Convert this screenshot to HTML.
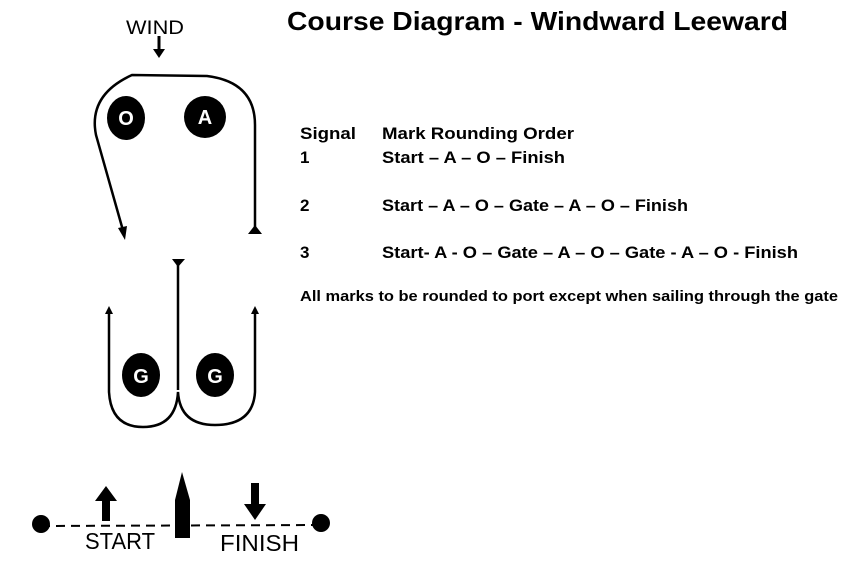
<!DOCTYPE html>
<html><head><style>body{margin:0;background:#fff}svg{display:block}</style></head><body>
<svg width="853" height="561" viewBox="0 0 853 561" xmlns="http://www.w3.org/2000/svg" font-family="Liberation Sans, sans-serif">
<rect width="853" height="561" fill="#fff"/>
<text x="126" y="34" font-size="19" textLength="58" lengthAdjust="spacingAndGlyphs">WIND</text>
<line x1="159" y1="36" x2="159" y2="50" stroke="#000" stroke-width="3"/>
<polygon points="153,49 165,49 159,58" fill="#000"/>
<path d="M124,234 L96,135 Q88,95 132,75 L207,76 Q255,82 255,125 L255,230" fill="none" stroke="#000" stroke-width="2.5"/>
<polygon points="118,228 127,226 125,240" fill="#000"/>
<polygon points="248,234 262,234 255,225" fill="#000"/>
<ellipse cx="126" cy="118" rx="19" ry="22" fill="#000"/>
<text x="126" y="125" font-size="20" font-weight="bold" fill="#fff" text-anchor="middle">O</text>
<ellipse cx="205" cy="117" rx="21" ry="21" fill="#000"/>
<text x="205" y="124" font-size="20" font-weight="bold" fill="#fff" text-anchor="middle">A</text>
<line x1="178" y1="262" x2="178" y2="390" stroke="#000" stroke-width="2.5"/>
<polygon points="172,259 185,259 178,267" fill="#000"/>
<path d="M109,310 L109,392 Q111,427 143,427 Q176,427 178,392 Q180,425 215,425 Q253,425 255,392 L255,310" fill="none" stroke="#000" stroke-width="2.5"/>
<polygon points="105,314 113,314 109,306" fill="#000"/>
<polygon points="251,314 259,314 255,306" fill="#000"/>
<ellipse cx="141" cy="375" rx="19" ry="22" fill="#000"/>
<text x="141" y="383" font-size="20" font-weight="bold" fill="#fff" text-anchor="middle">G</text>
<ellipse cx="215" cy="375" rx="19" ry="22" fill="#000"/>
<text x="215" y="383" font-size="20" font-weight="bold" fill="#fff" text-anchor="middle">G</text>
<line x1="41" y1="526" x2="321" y2="525" stroke="#000" stroke-width="2" stroke-dasharray="9,6"/>
<circle cx="41" cy="524" r="9" fill="#000"/>
<circle cx="321" cy="523" r="9" fill="#000"/>
<rect x="102" y="499" width="8" height="22" fill="#000"/>
<polygon points="95,501 117,501 106,486" fill="#000"/>
<rect x="175" y="500" width="15" height="38" fill="#000"/>
<polygon points="175,500 190,500 182,472" fill="#000"/>
<rect x="251" y="483" width="8" height="22" fill="#000"/>
<polygon points="244,504 266,504 255,520" fill="#000"/>
<text x="85" y="549" font-size="23" textLength="70" lengthAdjust="spacingAndGlyphs">START</text>
<text x="220" y="551" font-size="23" textLength="79" lengthAdjust="spacingAndGlyphs">FINISH</text>
<text x="287" y="30" font-size="26" font-weight="bold" textLength="501" lengthAdjust="spacingAndGlyphs">Course Diagram - Windward Leeward</text>
<g font-size="17" font-weight="bold">
<text x="300" y="139" textLength="56" lengthAdjust="spacingAndGlyphs">Signal</text>
<text x="382" y="139" textLength="192" lengthAdjust="spacingAndGlyphs">Mark Rounding Order</text>
<text x="300" y="163">1</text>
<text x="382" y="163" textLength="183" lengthAdjust="spacingAndGlyphs">Start – A – O –  Finish</text>
<text x="300" y="211">2</text>
<text x="382" y="211" textLength="306" lengthAdjust="spacingAndGlyphs">Start – A – O – Gate – A – O –  Finish</text>
<text x="300" y="258">3</text>
<text x="382" y="258" textLength="416" lengthAdjust="spacingAndGlyphs">Start- A - O – Gate – A – O – Gate - A – O -  Finish</text>
</g>
<text x="300" y="301" font-size="15" font-weight="bold" textLength="538" lengthAdjust="spacingAndGlyphs">All marks to be rounded to port except when sailing through the gate</text>
</svg>
</body></html>
